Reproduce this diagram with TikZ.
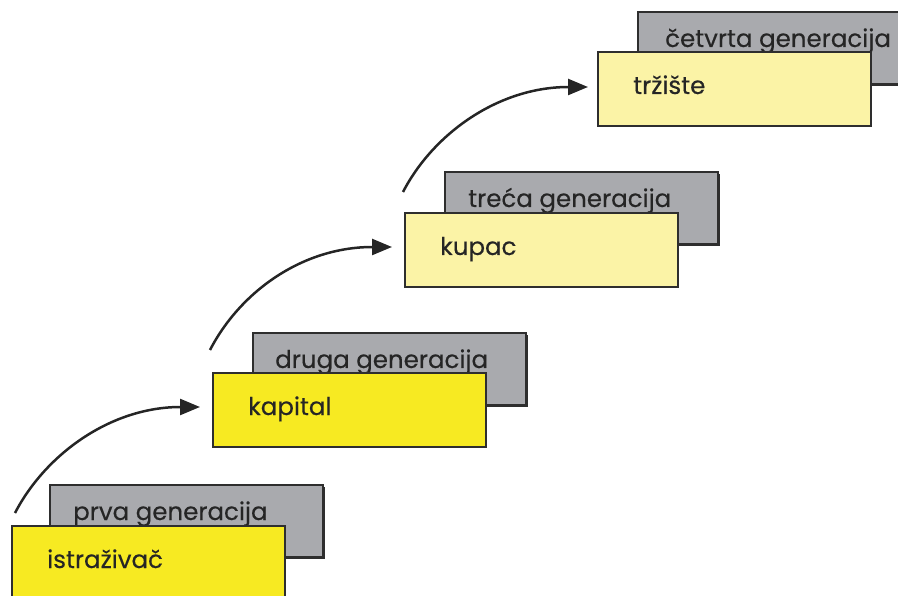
\documentclass[tikz,border=0pt]{standalone}
\usepackage{fontspec}
\setmainfont{Poppins}[FakeBold=0.4]
\usetikzlibrary{arrows.meta,calc}
\definecolor{ybright}{HTML}{F7EA22}
\definecolor{ypale}{HTML}{FBF3A6}
\definecolor{gbox}{HTML}{A9AAAE}
\definecolor{edge}{HTML}{2E2E2E}
\definecolor{ink}{HTML}{252525}
\tikzset{
  genbox/.style={draw=edge, line width=1.6pt, fill=gbox, anchor=north west, minimum width=273pt, minimum height=72pt, inner sep=0pt, outer sep=0pt},
  ybox/.style={draw=edge, line width=1.6pt, anchor=north west, minimum width=273pt, minimum height=74pt, inner sep=0pt, outer sep=0pt},
  gtext/.style={anchor=base west, inner sep=0pt, text=ink, font=\fontsize{24.5}{28}\selectfont},
  ytext/.style={anchor=base west, inner sep=0pt, text=ink, font=\fontsize{24.5}{28}\selectfont},
  arr/.style={draw=ink, line width=2.5pt, -{Triangle[length=20pt,width=16pt]}},
}
\begin{document}
\begin{tikzpicture}[x=1pt,y=-1pt]
\useasboundingbox (0,0) rectangle (898,596);
\clip (0,0) rectangle (898,596);
% generation 1
\node[genbox] (g1) at (50,485) {};
\draw[edge, line width=2pt] ($(g1.south west)+(2,1)$) -- ($(g1.south east)+(1,1)$) -- ($(g1.north east)+(1,2)$);
\node[gtext] (g1t) at ($(g1.north west)+(23,35)$) {prva generacija};
\node[ybox, fill=ybright] (y1) at (12,526) {};
\node[ytext] (y1t) at ($(y1.north west)+(35,42)$) {istraživač};
% generation 2
\node[genbox] (g2) at (253,333) {};
\draw[edge, line width=2pt] ($(g2.south west)+(2,1)$) -- ($(g2.south east)+(1,1)$) -- ($(g2.north east)+(1,2)$);
\node[gtext] (g2t) at ($(g2.north west)+(22,35)$) {druga generacija};
\node[ybox, fill=ybright] (y2) at (213,373) {};
\node[ytext] (y2t) at ($(y2.north west)+(35,42)$) {kapital};
% generation 3
\node[genbox] (g3) at (445,172) {};
\draw[edge, line width=2pt] ($(g3.south west)+(2,1)$) -- ($(g3.south east)+(1,1)$) -- ($(g3.north east)+(1,2)$);
\node[gtext] (g3t) at ($(g3.north west)+(23,35)$) {treća generacija};
\node[ybox, fill=ypale] (y3) at (405,213) {};
\node[ytext] (y3t) at ($(y3.north west)+(35,42)$) {kupac};
% generation 4
\node[genbox] (g4) at (638,12) {};
\draw[edge, line width=2pt] ($(g4.south west)+(2,1)$) -- ($(g4.south east)+(1,1)$);
\node[gtext] (g4t) at ($(g4.north west)+(27,35)$) {četvrta generacija};
\node[ybox, fill=ypale] (y4) at (598,52) {};
\node[ytext] (y4t) at ($(y4.north west)+(35,42)$) {tržište};
% arrows
\coordinate (a1s) at (15,513);
\coordinate (a1e) at ($(y2.west)+(-13,-3)$);
\coordinate (a2s) at (210,350);
\coordinate (a2e) at ($(y3.west)+(-13,-3)$);
\coordinate (a3s) at (403,192);
\coordinate (a3e) at ($(y4.west)+(-10,-2)$);
\draw[arr] (a1s) .. controls +(30,-58) and +(-90,0) .. (a1e);
\draw[arr] (a2s) .. controls +(30,-58) and +(-90,0) .. (a2e);
\draw[arr] (a3s) .. controls +(30,-58) and +(-90,0) .. (a3e);
\end{tikzpicture}
\end{document}
